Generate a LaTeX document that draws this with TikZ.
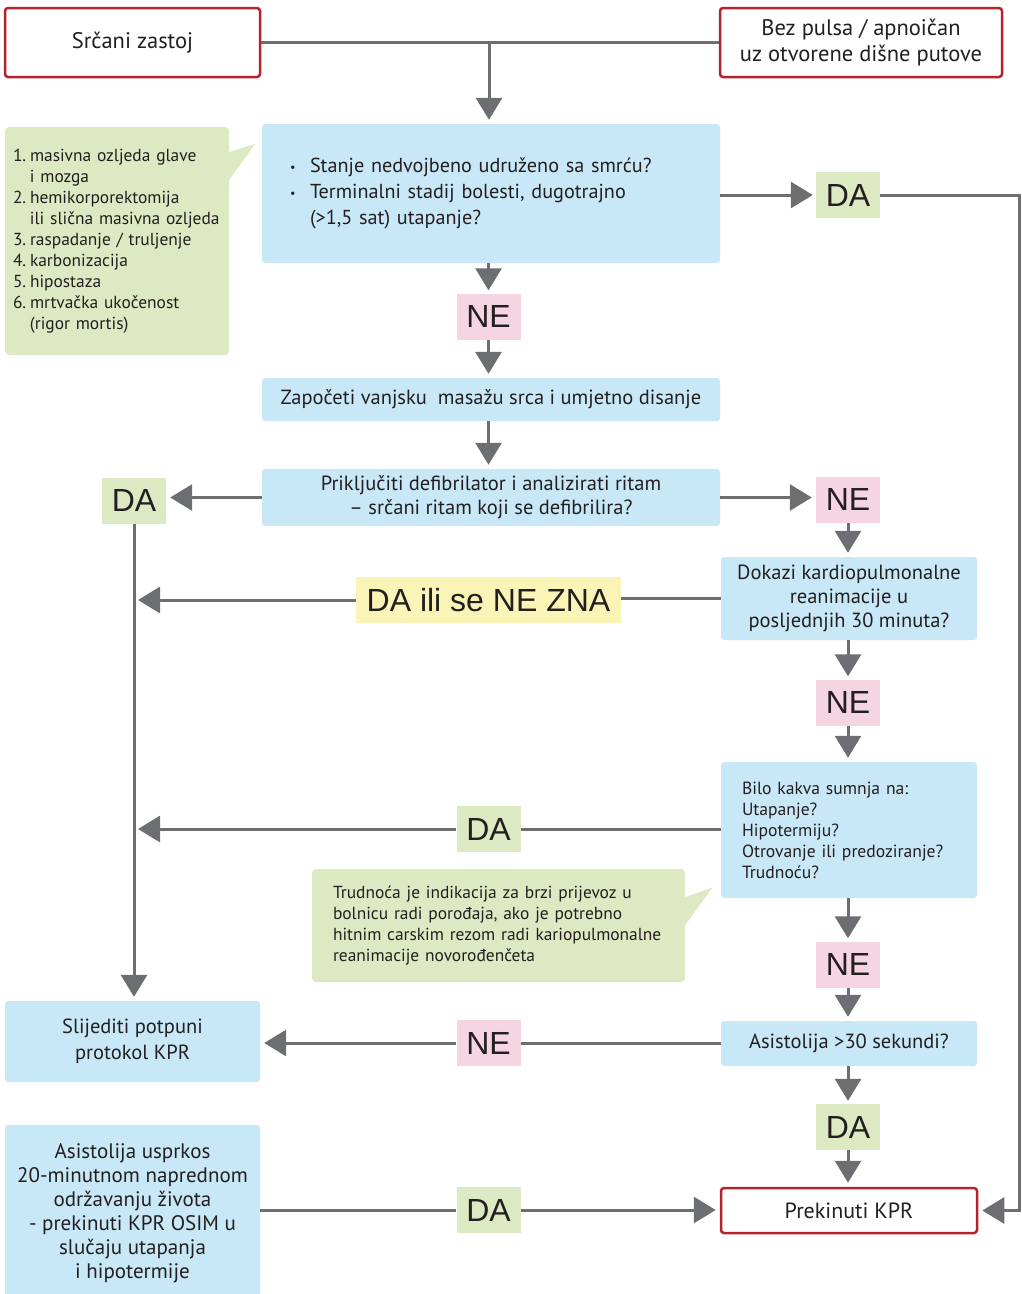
\documentclass[tikz,border=0pt]{standalone}
\usepackage{fontspec}
\setmainfont{PT Sans}
\newfontfamily\lblfamily{Liberation Sans}
\usetikzlibrary{arrows.meta,calc}
\definecolor{boxred}{HTML}{B5232A}
\definecolor{boxblue}{HTML}{C8E8F8}
\definecolor{notegreen}{HTML}{DCE9C2}
\definecolor{lblpink}{HTML}{F6D5E2}
\definecolor{lblgreen}{HTML}{DCE9C2}
\definecolor{lblyellow}{HTML}{FAF5B7}
\definecolor{linegray}{HTML}{6D6E71}
\definecolor{txt}{HTML}{231F20}
\newcommand\itm[1]{\makebox[17pt][l]{#1}}
\newcommand\cont{\hspace*{17pt}}
\newcommand\blt{\makebox[20pt][l]{\raisebox{0.15ex}{\scalebox{0.6}{\textbullet}}}}
\begin{document}
\begin{tikzpicture}[x=1pt,y=-1pt,
  every node/.style={text=txt},
  redbox/.style={draw=boxred,line width=2.5pt,rounded corners=3pt,fill=white,align=center,inner sep=0pt,font=\fontsize{22.5}{26}\selectfont},
  bluebox/.style={fill=boxblue,rounded corners=3pt,align=center,inner sep=0pt,font=\fontsize{20.5}{24}\selectfont},
  notebox/.style={fill=notegreen,rounded corners=4pt,align=left,inner sep=0pt,font=\fontsize{17.4}{21}\selectfont},
  lbl/.style={inner sep=0pt,minimum width=64pt,minimum height=46pt,font=\lblfamily\fontsize{32}{32}\selectfont},
  yes/.style={lbl,fill=lblgreen},
  no/.style={lbl,fill=lblpink},
  line/.style={draw=linegray,line width=3pt},
  arr/.style={line,-{Triangle[length=22pt,width=26pt]},shorten >=4pt},
]
\useasboundingbox (0,0) rectangle (1021,1294);

% start boxes
\node[redbox,minimum width=255pt,minimum height=69pt] (sz) at (132.5,42.5) {Srčani zastoj};
\node[redbox,minimum width=282pt,minimum height=69pt] (bp) at (861,42.5) {Bez pulsa / apnoičan\\uz otvorene dišne putove};

% first question
\node[bluebox,minimum width=458pt,minimum height=139pt,text width=402pt,align=left,
      font=\fontsize{20.2}{26}\selectfont] (q1) at (491,193.5)
  {\blt Stanje nedvojbeno udruženo sa smrću?\\
   \blt Terminalni stadij bolesti, dugotrajno\\
   \hspace*{20pt}(>1,5 sat) utapanje?};

% left note with pointer
\node[notebox,minimum width=224pt,minimum height=228pt,text width=208pt] (note1) at (117,241)
  {\itm{1.}masivna ozljeda glave\\
   \cont i mozga\\
   \itm{2.}hemikorporektomija\\
   \cont ili slična masivna ozljeda\\
   \itm{3.}raspadanje / truljenje\\
   \itm{4.}karbonizacija\\
   \itm{5.}hipostaza\\
   \itm{6.}mrtvačka ukočenost\\
   \cont (rigor mortis)};
\fill[notegreen] ($(note1.north east)+(-2,26)$) -- ($(note1.north east)+(26,17)$) -- ($(note1.north east)+(-2,56)$) -- cycle;

\node[yes] (da1) at (848,195) {DA};
\node[no] (ne1) at (488.5,316.5) {NE};

\node[bluebox,minimum width=458pt,minimum height=43pt] (start) at (491,399.5)
  {Započeti vanjsku~ masažu srca i umjetno disanje};
\node[bluebox,minimum width=458pt,minimum height=57pt] (defib) at (491,497.5)
  {Priključiti defibrilator i analizirati ritam\\– srčani ritam koji se defibrilira?};

\node[yes] (da2) at (134,500.5) {DA};
\node[no] (ne2) at (848,499.5) {NE};

\node[bluebox,minimum width=256pt,minimum height=83pt] (evid) at (849,598.5)
  {Dokazi kardiopulmonalne\\reanimacije u\\posljednjih 30 minuta?};
\node[lbl,fill=lblyellow,minimum width=265pt] (unk) at (488.5,600) {DA ili se NE ZNA};

\node[no] (ne3) at (848,702.5) {NE};

\node[bluebox,minimum width=256pt,minimum height=136pt,text width=214pt,align=left,
      font=\fontsize{17.6}{21}\selectfont] (susp) at (849,830)
  {Bilo kakva sumnja na:\\Utapanje?\\Hipotermiju?\\Otrovanje ili predoziranje?\\Trudnoću?};
\node[yes] (da3) at (488.5,829) {DA};

% lower note with pointer
\node[notebox,minimum width=373pt,minimum height=113pt,text width=331pt] (note2) at (498.5,925.5)
  {Trudnoća je indikacija za brzi prijevoz u\\
   bolnicu radi porođaja, ako je potrebno\\
   hitnim carskim rezom radi kariopulmonalne\\
   reanimacije novorođenčeta};
\fill[notegreen] ($(note2.north east)+(-2,29)$) -- ($(note2.north east)+(27,19)$) -- ($(note2.north east)+(-2,59)$) -- cycle;

\node[no] (ne4) at (848,964.5) {NE};
\node[bluebox,minimum width=256pt,minimum height=45pt] (asys) at (849,1043.5) {Asistolija >30 sekundi?};
\node[no] (ne5) at (488.5,1043) {NE};
\node[yes] (da4) at (848,1127) {DA};
\node[redbox,minimum width=256pt,minimum height=45pt,font=\fontsize{22}{26}\selectfont] (stop) at (849,1210.5) {Prekinuti KPR};

\node[bluebox,minimum width=255pt,minimum height=81pt,font=\fontsize{20.5}{26}\selectfont] (full) at (132.5,1041.5)
  {Slijediti potpuni\\protokol KPR};
\node[bluebox,minimum width=255pt,minimum height=176pt,font=\fontsize{21}{24}\selectfont] (adv) at (132.5,1213)
  {Asistolija usprkos\\20-minutnom naprednom\\održavanju života\\- prekinuti KPR OSIM u\\slučaju utapanja\\i hipotermije};
\node[yes] (da5) at (488.5,1210) {DA};

% connectors
\coordinate (j0) at (489,43);
\coordinate (rail) at (1019.5,0);
\draw[line] (sz.east) -- (bp.west);
\draw[arr] (j0) -- (j0 |- q1.north);
\draw[arr,shorten >=3pt] (q1.east |- da1.west) -- (da1.west);
\draw[arr] (da1.east) -- (da1.east -| rail) |- (stop.east);
\draw[arr,shorten >=3pt] (ne1.north |- q1.south) -- (ne1.north);
\draw[arr] (ne1.south) -- (ne1.south |- start.north);
\draw[arr] (ne1.south |- start.south) -- (ne1.south |- defib.north);
\draw[arr] (defib.west) -- (defib.west -| da2.east);
\draw[arr] (defib.east) -- (defib.east -| ne2.west);
\draw[arr] (da2.south) -- (da2.south |- full.north);
\draw[arr] (ne2.south) -- (ne2.south |- evid.north);
\draw[line] (evid.west) -- (evid.west -| unk.east);
\draw[arr] (unk.west) -- (unk.west -| da2.south);
\draw[arr,shorten >=3pt] (ne3.north |- evid.south) -- (ne3.north);
\draw[arr] (ne3.south) -- (ne3.south |- susp.north);
\draw[line] (susp.west |- da3.east) -- (da3.east);
\draw[arr] (da3.west) -- (da3.west -| da2.south);
\draw[arr,shorten >=3pt] (ne4.north |- susp.south) -- (ne4.north);
\draw[arr] (ne4.south) -- (ne4.south |- asys.north);
\draw[line] (asys.west |- ne5.east) -- (ne5.east);
\draw[arr] (ne5.west) -- (ne5.west -| full.east);
\draw[arr,shorten >=3pt] (da4.north |- asys.south) -- (da4.north);
\draw[arr] (da4.south) -- (da4.south |- stop.north);
\draw[line] (da5.west -| adv.east) -- (da5.west);
\draw[arr] (da5.east) -- (da5.east -| stop.west);
\end{tikzpicture}
\end{document}
